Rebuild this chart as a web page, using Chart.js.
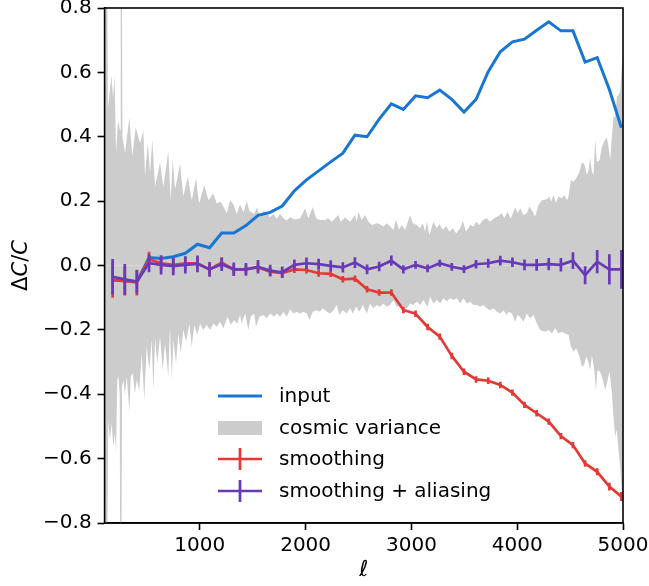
<!DOCTYPE html>
<html>
<head>
<meta charset="utf-8">
<script src="https://cdn.jsdelivr.net/npm/chart.js@4.4.1/dist/chart.umd.min.js"></script>
<style>
  html, body { margin: 0; padding: 0; background: #fff; }
  #chart { display: block; }
</style>
</head>
<body>
<canvas id="chart" width="649" height="586"></canvas>
<script>
// multipole bin centres
const ell = [176, 291, 405, 520, 634, 749, 863, 978, 1092, 1207, 1321, 1436, 1550, 1665, 1779,
  1894, 2008, 2123, 2237, 2352, 2466, 2581, 2695, 2810, 2924, 3039, 3153, 3268, 3382, 3497,
  3611, 3726, 3840, 3955, 4069, 4184, 4298, 4413, 4527, 4642, 4756, 4871, 4985];

const input = [-0.045, -0.048, -0.05, 0.025, 0.022, 0.027, 0.038, 0.066, 0.055, 0.101, 0.101,
  0.124, 0.156, 0.165, 0.185, 0.232, 0.266, 0.294, 0.322, 0.349, 0.405, 0.400, 0.455, 0.502,
  0.485, 0.527, 0.521, 0.545, 0.516, 0.477, 0.516, 0.602, 0.664, 0.695, 0.703, 0.731, 0.757,
  0.729, 0.729, 0.632, 0.646, 0.547, 0.428];

const smoothing = [-0.045, -0.048, -0.053, 0.019, 0.007, 0.002, 0.007, 0.007, -0.012, 0.009,
  -0.012, -0.012, -0.006, -0.019, -0.024, -0.012, -0.014, -0.024, -0.026, -0.043, -0.041,
  -0.074, -0.084, -0.084, -0.138, -0.150, -0.191, -0.221, -0.281, -0.330, -0.354, -0.358,
  -0.371, -0.395, -0.433, -0.459, -0.485, -0.530, -0.558, -0.615, -0.641, -0.687, -0.718];
const smoothingErr = [0.055, 0.045, 0.040, 0.024, 0.022, 0.020, 0.020, 0.018, 0.017, 0.016,
  0.015, 0.014, 0.013, 0.012, 0.012, 0.011, 0.011, 0.011, 0.010, 0.010, 0.010, 0.010, 0.010,
  0.010, 0.010, 0.010, 0.010, 0.010, 0.010, 0.010, 0.010, 0.010, 0.010, 0.010, 0.010, 0.010,
  0.010, 0.010, 0.010, 0.010, 0.011, 0.012, 0.014];

const aliasing = [-0.035, -0.043, -0.050, 0.007, 0.002, -0.002, 0.002, 0.005, -0.012, 0.004,
  -0.012, -0.012, -0.004, -0.016, -0.021, 0.002, 0.007, 0.004, -0.001, -0.006, 0.009, -0.012,
  -0.003, 0.015, -0.012, 0.002, -0.009, 0.007, -0.004, -0.011, 0.004, 0.007, 0.015, 0.010,
  0.002, 0.002, 0.004, 0.002, 0.015, -0.030, 0.012, -0.012, -0.012];
const aliasingErr = [0.055, 0.048, 0.036, 0.028, 0.030, 0.028, 0.027, 0.026, 0.023, 0.021,
  0.021, 0.020, 0.021, 0.018, 0.018, 0.017, 0.018, 0.017, 0.017, 0.016, 0.017, 0.015, 0.015,
  0.016, 0.013, 0.012, 0.012, 0.011, 0.012, 0.012, 0.013, 0.014, 0.015, 0.015, 0.017, 0.018,
  0.019, 0.021, 0.026, 0.028, 0.036, 0.047, 0.060];

const cvUpperEll = [100, 123, 132, 151, 165, 179, 194, 208, 227, 246, 252, 262, 269, 293, 334,
  362, 394, 435, 466, 482, 508, 529, 551, 577, 624, 655, 702, 725, 744, 766, 813, 844, 886, 924,
  964, 993, 1043, 1081, 1128, 1160, 1198, 1255, 1286, 1317, 1349, 1380, 1412, 1444, 1468, 1513,
  1541, 1569, 1601, 1633, 1664, 1695, 1727, 1759, 1790, 1822, 1853, 1900, 1948, 1995, 2026,
  2068, 2099, 2137, 2184, 2215, 2247, 2279, 2310, 2333, 2373, 2420, 2468, 2484, 2499, 2531,
  2562, 2594, 2626, 2673, 2704, 2735, 2768, 2799, 2830, 2853, 2884, 2909, 2941, 2988, 3013,
  3051, 3082, 3108, 3130, 3146, 3170, 3208, 3240, 3265, 3297, 3328, 3359, 3392, 3423, 3461,
  3486, 3517, 3555, 3586, 3612, 3643, 3675, 3713, 3744, 3782, 3813, 3855, 3877, 3908, 3940,
  3981, 4003, 4028, 4059, 4091, 4116, 4139, 4170, 4201, 4233, 4281, 4305, 4321, 4343, 4366,
  4390, 4422, 4444, 4470, 4485, 4507, 4532, 4558, 4589, 4611, 4633, 4659, 4674, 4690, 4706,
  4721, 4737, 4753, 4778, 4801, 4822, 4848, 4863, 4879, 4895, 4910, 4926, 4942, 4957, 4973,
  4989, 5000];
const cvUpper = [1.0, 1.0, 0.49, 0.55, 0.59, 0.52, 0.59, 0.35, 0.45, 0.42, 1.0, 1.0, 0.40, 0.35,
  0.46, 0.34, 0.43, 0.38, 0.42, 0.28, 0.38, 0.29, 0.39, 0.245, 0.32, 0.245, 0.354, 0.203, 0.33,
  0.235, 0.317, 0.214, 0.276, 0.203, 0.271, 0.193, 0.25, 0.203, 0.224, 0.193, 0.198, 0.162,
  0.203, 0.19, 0.16, 0.19, 0.165, 0.20, 0.17, 0.16, 0.18, 0.15, 0.17, 0.165, 0.15, 0.16, 0.145,
  0.16, 0.147, 0.14, 0.15, 0.143, 0.147, 0.178, 0.147, 0.182, 0.147, 0.141, 0.141, 0.147,
  0.136, 0.147, 0.157, 0.136, 0.15, 0.136, 0.157, 0.136, 0.167, 0.141, 0.157, 0.136, 0.126,
  0.131, 0.128, 0.121, 0.131, 0.121, 0.110, 0.141, 0.112, 0.126, 0.110, 0.157, 0.131, 0.126,
  0.116, 0.131, 0.105, 0.136, 0.095, 0.136, 0.116, 0.129, 0.110, 0.123, 0.105, 0.116, 0.100,
  0.116, 0.139, 0.105, 0.126, 0.121, 0.136, 0.126, 0.141, 0.147, 0.136, 0.147, 0.152, 0.162,
  0.147, 0.167, 0.147, 0.181, 0.162, 0.178, 0.157, 0.162, 0.183, 0.172, 0.152, 0.188, 0.203,
  0.206, 0.214, 0.198, 0.219, 0.195, 0.214, 0.209, 0.219, 0.203, 0.214, 0.266, 0.26, 0.271,
  0.291, 0.319, 0.317, 0.281, 0.297, 0.333, 0.291, 0.281, 0.39, 0.322, 0.327, 0.369, 0.385,
  0.398, 0.369, 0.328, 0.40, 0.462, 0.46, 0.524, 0.53, 0.54, 0.62, 0.64];

const cvLowerEll = [100, 123, 135, 151, 167, 182, 198, 208, 220, 230, 243, 248, 258, 265, 277,
  293, 309, 334, 347, 366, 387, 404, 428, 451, 475, 498, 523, 545, 561, 577, 598, 624, 649, 671,
  702, 718, 735, 750, 775, 797, 820, 844, 870, 901, 924, 948, 977, 1002, 1033, 1065, 1097, 1128,
  1160, 1191, 1222, 1264, 1292, 1324, 1355, 1380, 1396, 1428, 1459, 1482, 1513, 1532, 1563,
  1601, 1633, 1664, 1702, 1727, 1759, 1790, 1822, 1853, 1884, 1917, 1948, 1979, 2011, 2036,
  2068, 2099, 2137, 2162, 2200, 2231, 2263, 2294, 2319, 2351, 2389, 2420, 2446, 2477, 2508,
  2541, 2578, 2610, 2641, 2673, 2704, 2735, 2768, 2799, 2830, 2862, 2893, 2924, 2957, 2988,
  3019, 3051, 3082, 3114, 3152, 3177, 3208, 3240, 3272, 3303, 3335, 3366, 3397, 3430, 3461,
  3492, 3524, 3555, 3586, 3619, 3650, 3681, 3713, 3744, 3776, 3808, 3839, 3870, 3902, 3917,
  3950, 3981, 4003, 4028, 4059, 4091, 4122, 4154, 4186, 4217, 4264, 4296, 4328, 4359, 4390,
  4422, 4453, 4485, 4507, 4532, 4558, 4589, 4611, 4633, 4652, 4674, 4690, 4706, 4728, 4744,
  4759, 4784, 4810, 4832, 4854, 4873, 4895, 4910, 4926, 4942, 4957, 4973, 4989, 5000];
const cvLower = [-1.0, -1.0, -0.48, -0.542, -0.49, -0.563, -0.521, -0.583, -0.356, -0.345,
  -0.40, -1.0, -1.0, -0.376, -0.356, -0.402, -0.345, -0.454, -0.345, -0.335, -0.397, -0.356,
  -0.387, -0.273, -0.418, -0.252, -0.325, -0.231, -0.387, -0.226, -0.304, -0.221, -0.325,
  -0.242, -0.345, -0.19, -0.356, -0.231, -0.304, -0.211, -0.273, -0.20, -0.237, -0.18, -0.252,
  -0.185, -0.216, -0.18, -0.20, -0.185, -0.20, -0.18, -0.19, -0.175, -0.195, -0.159, -0.185,
  -0.169, -0.18, -0.154, -0.18, -0.149, -0.20, -0.159, -0.149, -0.19, -0.159, -0.154, -0.164,
  -0.149, -0.159, -0.149, -0.159, -0.144, -0.159, -0.136, -0.149, -0.144, -0.149, -0.144,
  -0.149, -0.169, -0.144, -0.139, -0.144, -0.133, -0.144, -0.149, -0.139, -0.123, -0.154,
  -0.139, -0.149, -0.133, -0.149, -0.128, -0.144, -0.123, -0.149, -0.118, -0.133, -0.123,
  -0.128, -0.118, -0.128, -0.123, -0.107, -0.128, -0.123, -0.128, -0.133, -0.118, -0.123,
  -0.112, -0.123, -0.107, -0.128, -0.097, -0.118, -0.107, -0.118, -0.102, -0.112, -0.102,
  -0.107, -0.102, -0.118, -0.102, -0.118, -0.112, -0.123, -0.123, -0.128, -0.123, -0.133,
  -0.139, -0.133, -0.144, -0.149, -0.139, -0.154, -0.144, -0.149, -0.175, -0.154, -0.16,
  -0.175, -0.149, -0.164, -0.154, -0.18, -0.20, -0.206, -0.20, -0.211, -0.195, -0.211, -0.206,
  -0.211, -0.216, -0.252, -0.268, -0.257, -0.283, -0.314, -0.309, -0.283, -0.30, -0.325,
  -0.278, -0.325, -0.387, -0.325, -0.33, -0.356, -0.387, -0.356, -0.33, -0.397, -0.47, -0.532,
  -0.511, -0.573, -0.625, -0.708, -0.75];

const xTicks = [1000, 2000, 3000, 4000, 5000];
const yTicks = [-0.8, -0.6, -0.4, -0.2, 0.0, 0.2, 0.4, 0.6, 0.8];
const seriesNames = ['input', 'cosmic variance', 'smoothing', 'smoothing + aliasing'];

const BLUE = '#1976d2';
const GREY = '#cccccc';
const RED = '#e53935';
const PURPLE = '#673ab7';
const FONT = "'DejaVu Sans', sans-serif";

function pts(xs, ys) {
    return xs.map((x, i) => ({ x: x, y: ys[i] }));
}

// vertical error bars, drawn right after their own line so stacking stays right
const errorBars = {
    id: 'errorBars',
    afterDatasetDraw(chart, args) {
        const ds = chart.data.datasets[args.index];
        if (!ds.errors) return;
        const xs = chart.scales.x, ys = chart.scales.y, a = chart.chartArea;
        const ctx = chart.ctx;
        ctx.save();
        ctx.beginPath();
        ctx.rect(a.left, a.top, a.right - a.left, a.bottom - a.top);
        ctx.clip();
        ctx.strokeStyle = ds.borderColor;
        ctx.lineWidth = ds.borderWidth;
        ctx.beginPath();
        ds.data.forEach((p, i) => {
            const px = xs.getPixelForValue(p.x);
            ctx.moveTo(px, ys.getPixelForValue(p.y - ds.errors[i]));
            ctx.lineTo(px, ys.getPixelForValue(p.y + ds.errors[i]));
        });
        ctx.stroke();
        ctx.restore();
    }
};

// frame, axis titles and the legend
const decorations = {
    id: 'decorations',
    afterDraw(chart) {
        const ctx = chart.ctx, a = chart.chartArea;
        ctx.save();
        ctx.strokeStyle = '#000';
        ctx.lineWidth = 1.6;
        ctx.strokeRect(a.left, a.top, a.right - a.left, a.bottom - a.top);

        ctx.fillStyle = '#000';
        ctx.textBaseline = 'middle';

        // x label
        ctx.font = 'italic 22px ' + FONT;
        ctx.textAlign = 'center';
        ctx.fillText('ℓ', (a.left + a.right) / 2, 570);

        // y label: ΔC/C with italic C
        const parts = [['Δ', 'normal'], ['C', 'italic'], ['/', 'normal'], ['C', 'italic']];
        let total = 0;
        parts.forEach(p => { ctx.font = p[1] + ' 21px ' + FONT; total += ctx.measureText(p[0]).width; });
        ctx.translate(22, (a.top + a.bottom) / 2);
        ctx.rotate(-Math.PI / 2);
        ctx.textAlign = 'left';
        let x0 = -total / 2;
        parts.forEach(p => {
            ctx.font = p[1] + ' 21px ' + FONT;
            ctx.fillText(p[0], x0, 0);
            x0 += ctx.measureText(p[0]).width;
        });
        ctx.setTransform(1, 0, 0, 1, 0, 0);

        // legend
        const hx0 = 218, hx1 = 262, tx = 279;
        const rows = [396, 428, 459, 491];
        ctx.font = '20px ' + FONT;
        ctx.textAlign = 'left';
        ctx.lineCap = 'butt';

        ctx.strokeStyle = BLUE;
        ctx.lineWidth = 3;
        ctx.beginPath(); ctx.moveTo(hx0, rows[0]); ctx.lineTo(hx1, rows[0]); ctx.stroke();

        ctx.fillStyle = GREY;
        ctx.fillRect(hx0, rows[1] - 7, hx1 - hx0, 14);

        [[RED, rows[2]], [PURPLE, rows[3]]].forEach(r => {
            ctx.strokeStyle = r[0];
            ctx.lineWidth = 2.7;
            ctx.beginPath();
            ctx.moveTo(hx0, r[1]); ctx.lineTo(hx1, r[1]);
            ctx.moveTo((hx0 + hx1) / 2, r[1] - 11); ctx.lineTo((hx0 + hx1) / 2, r[1] + 11);
            ctx.stroke();
        });

        ctx.fillStyle = '#000';
        seriesNames.forEach((name, i) => ctx.fillText(name, tx, rows[i] + 1));
        ctx.restore();
    }
};

Chart.defaults.color = '#000';
Chart.defaults.font.family = FONT;
Chart.defaults.font.size = 20;

const ctx = document.getElementById('chart').getContext('2d');
new Chart(ctx, {
    type: 'line',
    data: {
        datasets: [
            {
                label: seriesNames[3], data: pts(ell, aliasing), errors: aliasingErr,
                borderColor: PURPLE, borderWidth: 2.7, pointRadius: 0, fill: false, order: 0
            },
            {
                label: seriesNames[2], data: pts(ell, smoothing), errors: smoothingErr,
                borderColor: RED, borderWidth: 2.7, pointRadius: 0, fill: false, order: 1
            },
            {
                label: seriesNames[0], data: pts(ell, input),
                borderColor: BLUE, borderWidth: 3, pointRadius: 0, fill: false, order: 2
            },
            {
                label: seriesNames[1], data: pts(cvUpperEll, cvUpper),
                borderColor: 'rgba(0,0,0,0)', borderWidth: 0, backgroundColor: GREY,
                pointRadius: 0, fill: 'origin', order: 3
            },
            {
                label: seriesNames[1] + ' lower', data: pts(cvLowerEll, cvLower),
                borderColor: 'rgba(0,0,0,0)', borderWidth: 0, backgroundColor: GREY,
                pointRadius: 0, fill: 'origin', order: 4
            }
        ]
    },
    options: {
        responsive: false,
        animation: false,
        devicePixelRatio: 1,
        layout: { padding: { top: 8, right: 26, left: 0, bottom: 0 } },
        elements: { line: { tension: 0 } },
        plugins: { legend: { display: false }, tooltip: { enabled: false } },
        scales: {
            x: {
                type: 'linear', min: 100, max: 5000,
                afterBuildTicks: s => { s.ticks = xTicks.map(v => ({ value: v })); },
                afterFit: s => { s.height = 63; s.paddingLeft = 0; s.paddingRight = 0; },
                ticks: { padding: 4, maxRotation: 0, autoSkip: false, callback: v => String(v) },
                grid: { drawOnChartArea: false, drawTicks: true, tickLength: 7, tickWidth: 1.6, tickColor: '#000' },
                border: { display: true, color: '#000', width: 1.6 }
            },
            y: {
                type: 'linear', min: -0.8, max: 0.8,
                afterBuildTicks: s => { s.ticks = yTicks.map(v => ({ value: v })); },
                afterFit: s => { s.width = 104.6; s.paddingTop = 0; s.paddingBottom = 0; },
                ticks: { padding: 6, autoSkip: false, callback: v => v.toFixed(1).replace('-', '\u2212') },
                grid: { drawOnChartArea: false, drawTicks: true, tickLength: 7, tickWidth: 1.6, tickColor: '#000' },
                border: { display: true, color: '#000', width: 1.6 }
            }
        }
    },
    plugins: [errorBars, decorations]
});
</script>
</body>
</html>
